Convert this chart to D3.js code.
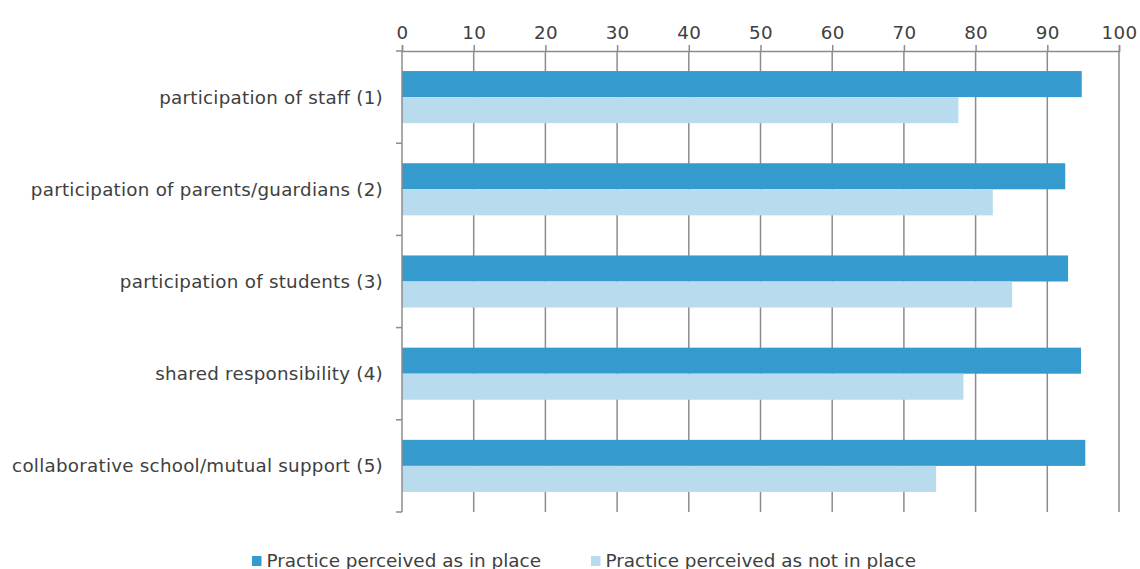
<!DOCTYPE html>
<html>
<head>
<meta charset="utf-8">
<script src="https://cdn.jsdelivr.net/npm/d3@7"></script>
<style>
  html, body { margin: 0; padding: 0; background: #fff; }
  svg { display: block; }
  text { font-family: "DejaVu Sans", Verdana, sans-serif; fill: #404040; }
</style>
</head>
<body>
<svg id="chart" width="1140" height="569"></svg>
<script>
const categories = [
  "participation of staff (1)",
  "participation of parents/guardians (2)",
  "participation of students (3)",
  "shared responsibility (4)",
  "collaborative school/mutual support (5)"
];
const seriesNames = ["Practice perceived as in place", "Practice perceived as not in place"];
const inPlace = [94.8, 92.5, 92.9, 94.7, 95.3];
const notInPlace = [77.6, 82.4, 85.1, 78.3, 74.5];
const xTicks = [0, 10, 20, 30, 40, 50, 60, 70, 80, 90, 100];
const colors = ["#359bce", "#b8dcee"];

(function () {
const svg = d3.select("#chart");
const mLeft = 402, mRight = 1119, mTop = 51, mBottom = 512;

const x = d3.scaleLinear().domain([0, 100]).range([mLeft, mRight]);
const y = d3.scaleBand().domain(categories).range([mTop, mBottom]).padding(0);
const ySub = d3.scaleBand().domain(seriesNames).range([0, y.bandwidth()])
  .paddingInner(0).paddingOuter(0.77);

// gridlines
svg.append("g").selectAll("line").data(xTicks.slice(1)).join("line")
  .attr("x1", d => x(d)).attr("x2", d => x(d))
  .attr("y1", mTop).attr("y2", mBottom)
  .attr("stroke", "#8c8c8c").attr("stroke-width", 1.5);

// bars
const data = categories.map((c, i) => ({cat: c, vals: [inPlace[i], notInPlace[i]]}));
const g = svg.append("g");
data.forEach(d => {
  d.vals.forEach((v, j) => {
    g.append("rect")
      .attr("x", x(0))
      .attr("y", y(d.cat) + ySub(seriesNames[j]))
      .attr("width", x(v) - x(0))
      .attr("height", ySub.bandwidth())
      .attr("fill", colors[j]);
  });
});

// top axis
const xAxis = d3.axisTop(x).tickValues(xTicks).tickSize(6).tickPadding(6).tickFormat(d3.format("d"));
const gx = svg.append("g").attr("transform", `translate(0,${mTop})`).call(xAxis);
gx.select(".domain").attr("stroke", "#8c8c8c").attr("stroke-width", 1.5);
gx.selectAll(".tick line").attr("stroke", "#8c8c8c").attr("stroke-width", 1.5);
gx.selectAll(".tick text").attr("font-size", "18.3px").attr("fill", "#404040")
  .attr("letter-spacing", "0.3px")
  .style("font-family", '"DejaVu Sans", Verdana, sans-serif');

// left axis: line + boundary ticks
const bounds = categories.map(c => y(c)).concat([y(categories[categories.length - 1]) + y.bandwidth()]);
svg.append("line").attr("x1", mLeft).attr("x2", mLeft).attr("y1", mTop).attr("y2", mBottom)
  .attr("stroke", "#8c8c8c").attr("stroke-width", 1.5);
svg.append("g").selectAll("line").data(bounds).join("line")
  .attr("x1", mLeft - 6).attr("x2", mLeft).attr("y1", d => d).attr("y2", d => d)
  .attr("stroke", "#8c8c8c").attr("stroke-width", 1.5);

// category labels
svg.append("g").selectAll("text").data(categories).join("text")
  .attr("x", mLeft - 19)
  .attr("y", d => y(d) + y.bandwidth() / 2)
  .attr("dy", "0.35em")
  .attr("text-anchor", "end")
  .attr("font-size", "18.3px")
  .attr("letter-spacing", "0.25px")
  .text(d => d);

// legend
const legendX = [252, 591];
const lg = svg.append("g");
seriesNames.forEach((s, i) => {
  lg.append("rect").attr("x", legendX[i]).attr("y", 556).attr("width", 9.5).attr("height", 10)
    .attr("fill", colors[i]);
  lg.append("text").attr("x", legendX[i] + 14.5).attr("y", 567)
    .attr("font-size", "18.4px").text(s);
});
})();
</script>
</body>
</html>
